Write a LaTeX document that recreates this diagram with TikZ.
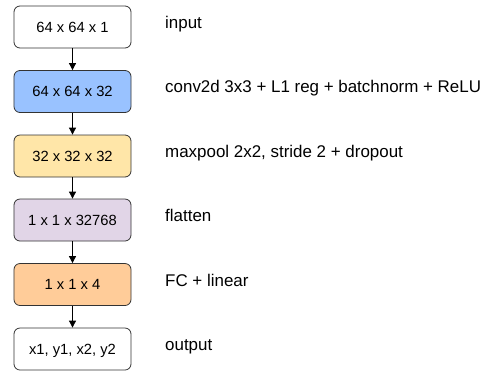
\documentclass[tikz,border=0pt]{standalone}
\usepackage{fontspec}
\setmainfont{Liberation Sans}
\usetikzlibrary{arrows.meta}
\definecolor{cblue}{HTML}{99C2FF}
\definecolor{cyellow}{HTML}{FFE6A8}
\definecolor{cpurple}{HTML}{E1D5E7}
\definecolor{corange}{HTML}{FFCC99}
\definecolor{cline}{HTML}{333333}
\begin{document}
\begin{tikzpicture}[x=1bp,y=-1bp,
  layer/.style={draw=cline, line width=0.8bp, rounded corners=6bp, minimum width=117bp, minimum height=42bp, inner sep=0pt, text height=0.72em+3bp, text depth=0pt, font=\fontsize{14.8}{17}\selectfont},
  desc/.style={anchor=west, inner sep=0pt, text height=0.72em, text depth=0pt, font=\fontsize{17}{20}\selectfont},
  conn/.style={draw=black, line width=0.8bp, -{Triangle[length=7bp,width=7bp]}}]
\useasboundingbox (0,0) rectangle (483,371);
\node[layer, fill=white]   (b1) at (72.5,27)  {64 x 64 x 1};
\node[layer, fill=cblue]   (b2) at (72.5,91.5) {64 x 64 x 32};
\node[layer, fill=cyellow] (b3) at (72.5,156) {32 x 32 x 32};
\node[layer, fill=cpurple] (b4) at (72.5,220) {1 x 1 x 32768};
\node[layer, fill=corange] (b5) at (72.5,284.5) {1 x 1 x 4};
\node[layer, fill=white]   (b6) at (72.5,349) {x1, y1, x2, y2};
\node[desc] (l1) at (165,25)  {input};
\node[desc] (l2) at (165,89)  {conv2d 3x3 + L1 reg + batchnorm + ReLU};
\node[desc] (l3) at (165,154) {maxpool 2x2, stride 2 + dropout};
\node[desc] (l4) at (165,218) {flatten};
\node[desc] (l5) at (165,282.5) {FC + linear};
\node[desc] (l6) at (165,347) {output};
\draw[conn] (b1) -- (b2);
\draw[conn] (b2) -- (b3);
\draw[conn] (b3) -- (b4);
\draw[conn] (b4) -- (b5);
\draw[conn] (b5) -- (b6);
\end{tikzpicture}
\end{document}
